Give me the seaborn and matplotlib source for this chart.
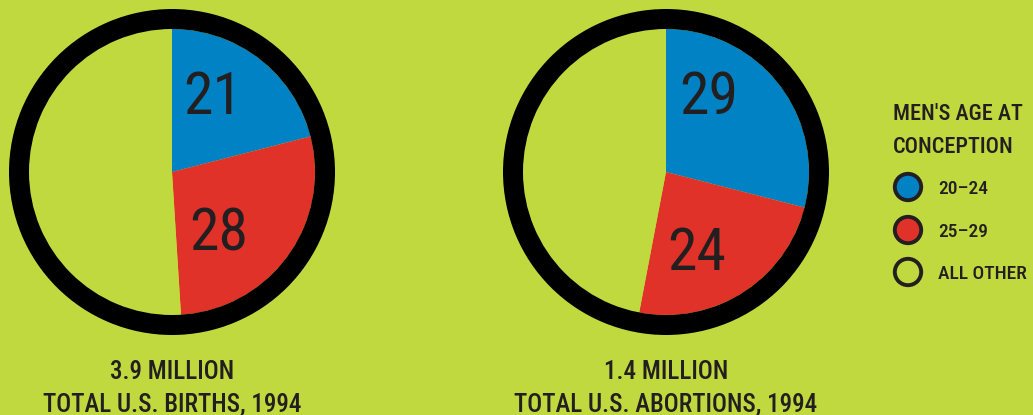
import matplotlib
matplotlib.use("Agg")
import matplotlib.pyplot as plt
from matplotlib import font_manager
import seaborn as sns

# data
groups = ["20–24", "25–29", "ALL OTHER"]
births_pct = [21, 28, 51]
abortions_pct = [29, 24, 47]
totals = ["3.9 MILLION", "1.4 MILLION"]
captions = ["TOTAL U.S. BIRTHS, 1994", "TOTAL U.S. ABORTIONS, 1994"]
legend_title = ["MEN'S AGE AT", "CONCEPTION"]

BG = "#c0d93e"
BLUE = "#0082c4"
RED = "#e03228"
INK = "#231f20"
colors = [BLUE, RED, BG]

sns.set_theme(style="white")
names = {f.name for f in font_manager.fontManager.ttflist}
font = "DejaVu Sans"
for cand in ["Roboto Condensed", "Archivo Narrow", "Barlow Semi Condensed",
             "Liberation Sans Narrow"]:
    if cand in names:
        font = cand
        break
plt.rcParams["font.family"] = [font, "DejaVu Sans"]

W, H = 1033, 415
fig = plt.figure(figsize=(W / 100, H / 100), dpi=100, facecolor=BG)

pies = [
    dict(values=births_pct, cx=172, lab=[(41, 75), (47, -62)]),
    dict(values=abortions_pct, cx=666, lab=[(43, 75), (31, -82)]),
]
cy = 172
R_IN, RING = 143, 20

for i, p in enumerate(pies):
    ax = fig.add_axes([(p["cx"] - 170) / W, (H - cy - 170) / H, 340 / W, 340 / H])
    ax.set_facecolor(BG)
    ax.pie(p["values"], colors=colors, startangle=90, counterclock=False,
           radius=R_IN, wedgeprops=dict(linewidth=0))
    ax.pie([1], colors=["black"], radius=R_IN + RING,
           wedgeprops=dict(width=RING, linewidth=0))
    for v, (dx, dy) in zip(p["values"][:2], p["lab"]):
        ax.text(dx, dy, str(v), ha="center", va="center", fontsize=43,
                color=INK, fontweight="normal")
    ax.set_xlim(-170, 170)
    ax.set_ylim(-170, 170)
    ax.set_axis_off()
    fig.text(p["cx"] / W, (H - 369) / H, totals[i], ha="center", va="center_baseline",
             fontsize=18, color=INK, fontweight="medium")
    fig.text(p["cx"] / W, (H - 402) / H, captions[i], ha="center", va="center_baseline",
             fontsize=18, color=INK, fontweight="medium")

# legend drawn in its own pixel-scaled axes
lax = fig.add_axes([880 / W, 0, (W - 880) / W, 1])
lax.set_xlim(880, W)
lax.set_ylim(H, 0)
lax.set_axis_off()
for k, line in enumerate(legend_title):
    lax.text(893, 111 + 33 * k, line, ha="left", va="center_baseline",
             fontsize=16, color=INK, fontweight="medium")
item_y = [187, 230, 272]
lax.scatter([908] * len(groups), item_y, s=19 ** 2, c=colors,
            edgecolors=INK, linewidths=2.8, clip_on=False)
for y, g in zip(item_y, groups):
    lax.text(938, y, g, ha="left", va="center_baseline", fontsize=14,
             color=INK, fontweight="medium")

fig.savefig("out.png", dpi=100, facecolor=BG)
